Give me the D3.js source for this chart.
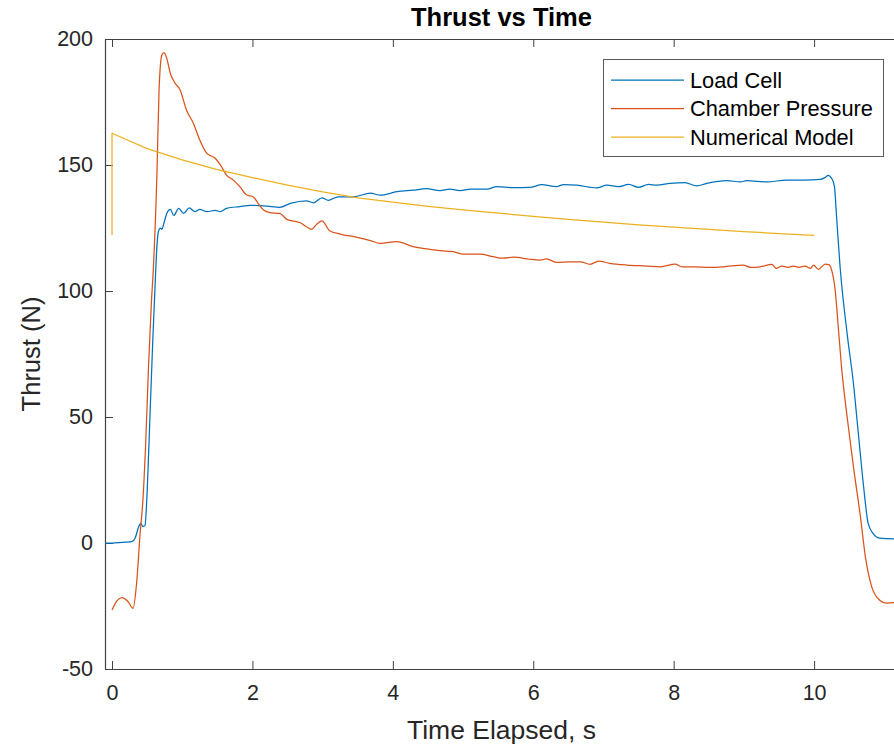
<!DOCTYPE html>
<html>
<head>
<meta charset="utf-8">
<script src="https://cdn.jsdelivr.net/npm/d3@7"></script>
<style>
  html, body { margin: 0; padding: 0; background: #fff; }
  svg { display: block; font-family: "Liberation Sans", Arial, Helvetica, sans-serif; }
</style>
</head>
<body>
<svg id="chart" width="894" height="746"></svg>
<script>
// ---------- DATA ----------
const xTicks = [0, 2, 4, 6, 8, 10];
const yTicks = [-50, 0, 50, 100, 150, 200];
const seriesNames = ["Load Cell", "Chamber Pressure", "Numerical Model"];

// Load Cell: [time s, thrust N]
const loadCell = [
  [-0.12,0],[0,0],[0.1,0.1],[0.2,0.3],[0.28,0.5],[0.33,2],[0.38,6.5],[0.41,7.8],[0.44,6.5],[0.47,7],
  [0.5,20],[0.54,50],[0.58,80],[0.61,100],[0.64,118],[0.66,123.5],[0.69,125],[0.71,124.5],
  [0.74,127],[0.78,130.8],[0.83,132.4],[0.88,130],[0.95,132.8],[1.02,130.8],[1.10,133],
  [1.18,131.5],[1.25,132.4],[1.35,131.5],[1.47,132],[1.54,131.5],[1.63,132.8],[1.82,133.5],
  [1.97,134],[2.2,133.7],[2.39,133.2],[2.54,134.8],[2.77,135.8],[2.87,135],[2.99,137],
  [3.08,136],[3.22,137.4],[3.44,137.4],[3.68,138.8],[3.82,138],[4.06,139.4],[4.29,140],
  [4.48,140.6],[4.67,139.8],[4.81,140.4],[4.96,139.8],[5.1,140.4],[5.34,140.4],[5.48,141.4],
  [5.72,141],[5.95,141.1],[6.12,142.2],[6.33,141.4],[6.43,142.2],[6.62,142],[6.9,140.9],
  [7.05,142],[7.21,141.4],[7.36,142.3],[7.5,141.1],[7.64,142.3],[7.76,142],[7.95,142.7],
  [8.16,143],[8.33,141.7],[8.47,142.7],[8.76,143.8],[8.95,143.3],[9.04,143.8],[9.33,143.3],
  [9.61,144],[9.85,144],[10.09,144.3],[10.16,145.1],[10.2,145.9],[10.25,144.7],[10.29,141.4],
  [10.32,129.5],[10.37,109.6],[10.47,83.2],[10.56,63.4],[10.63,43.5],[10.7,23.7],[10.77,7.8],
  [10.84,3.8],[10.93,1.9],[11.12,1.6],[11.3,1.6]
];

// Chamber Pressure (converted to thrust): [time s, thrust N]
const chamberPressure = [
  [0.0,-26.6],[0.07,-23],[0.14,-21.7],[0.23,-23.3],[0.30,-25.9],[0.35,-16],[0.40,3.8],
  [0.44,17],[0.48,40],[0.52,70],[0.56,95],[0.59,109.6],[0.64,146.7],[0.67,179.8],[0.71,193.7],
  [0.74,194.6],[0.78,192.3],[0.83,186.4],[0.90,182.4],[0.97,179.8],[1.06,171.8],[1.16,166.5],
  [1.25,159.9],[1.35,154.6],[1.47,152.7],[1.56,149.3],[1.63,146],[1.73,144],[1.82,141.4],
  [1.92,138.1],[2.01,137.4],[2.08,134.8],[2.16,132.1],[2.25,131.1],[2.39,130.8],[2.49,128.4],
  [2.68,127.1],[2.77,125.5],[2.84,124.5],[2.92,126.6],[2.99,127.8],[3.1,123.9],[3.25,122.6],
  [3.49,121.3],[3.68,120],[3.82,118.9],[4.06,119.6],[4.29,117.6],[4.43,116.9],[4.67,116],
  [4.86,115.6],[5.0,114.6],[5.24,114.6],[5.43,113.6],[5.57,113],[5.72,113.4],[5.95,112.6],
  [6.1,112.3],[6.19,112.7],[6.33,111.4],[6.52,111.6],[6.67,111.6],[6.81,110.6],[6.93,111.9],
  [7.09,111],[7.33,110.3],[7.62,109.9],[7.81,109.6],[8.02,110.7],[8.12,109.6],[8.28,109.6],
  [8.52,109.4],[8.71,109.6],[8.99,110.3],[9.09,109.4],[9.23,109.6],[9.4,110.6],[9.46,109],
  [9.54,109.9],[9.63,109.4],[9.7,109.9],[9.78,109.4],[9.87,109.9],[9.95,109],[9.99,110.3],
  [10.06,108.6],[10.16,110.7],[10.21,110.5],[10.25,108.3],[10.3,100.4],[10.34,87.2],[10.39,70],
  [10.47,50.1],[10.56,30.3],[10.66,10.4],[10.73,-5.4],[10.82,-17.3],[10.93,-22.6],[11.03,-23.9],
  [11.12,-23.7],[11.3,-23.8]
];

// Numerical Model: [time s, thrust N]
const numericalModel = [
  [0,122.2],[0,162.6],[0.5,156.5],[1,152],[1.5,148.2],[2,145],[2.5,142],[3,139.3],[3.5,137],
  [4,135.3],[4.5,133.6],[5,132.2],[5.5,130.9],[6,129.6],[6.5,128.4],[7,127.3],[7.5,126.2],
  [8,125.3],[8.5,124.5],[9,123.6],[9.5,122.8],[10,122.1]
];

// ---------- LAYOUT ----------
const colors = ["#0072BD", "#D95319", "#EDB120"];
const axisColor = "#404040";
const textColor = "#262626";

const svg = d3.select("#chart");
const mLeft = 105, mRight = 898, mTop = 39, mBottom = 669;

const x = d3.scaleLinear().domain([-0.1, 11.195]).range([mLeft, mRight]);
const y = d3.scaleLinear().domain([-50, 200]).range([mBottom, mTop]);

svg.append("defs").append("clipPath").attr("id", "clip")
  .append("rect").attr("x", mLeft).attr("y", mTop)
  .attr("width", mRight - mLeft).attr("height", mBottom - mTop);

// Axes (MATLAB-style, ticks inward)
const tickLen = 8;
const fmt = d => String(d);
const gx = svg.append("g").attr("transform", `translate(0,${mBottom})`)
  .call(d3.axisBottom(x).tickValues(xTicks).tickSizeInner(-tickLen).tickSizeOuter(0).tickPadding(16).tickFormat(fmt));
const gxTop = svg.append("g").attr("transform", `translate(0,${mTop})`)
  .call(d3.axisTop(x).tickValues(xTicks).tickSizeInner(-tickLen).tickSizeOuter(0).tickFormat(""));
const gy = svg.append("g").attr("transform", `translate(${mLeft},0)`)
  .call(d3.axisLeft(y).tickValues(yTicks).tickSizeInner(-tickLen).tickSizeOuter(0).tickPadding(12).tickFormat(fmt));

[gx, gxTop, gy].forEach(g => {
  g.select(".domain").attr("stroke", axisColor).attr("stroke-width", 1.2);
  g.selectAll(".tick line").attr("stroke", axisColor).attr("stroke-width", 1);
  g.selectAll(".tick text").attr("fill", textColor).style("font-size", "21.5px")
    .style("font-family", '"Liberation Sans", Arial, sans-serif');
});
gx.selectAll(".tick text").attr("dy", "0.71em");

// Lines
const line = d3.line().x(d => x(d[0])).y(d => y(d[1]));
const plot = svg.append("g").attr("clip-path", "url(#clip)");
const series = [loadCell, chamberPressure, numericalModel];
const curves = [d3.curveMonotoneX, d3.curveMonotoneX, d3.curveLinear];
series.forEach((data, i) => {
  plot.append("path")
    .datum(data)
    .attr("fill", "none")
    .attr("stroke", colors[i])
    .attr("stroke-width", 1.25)
    .attr("stroke-linejoin", "round")
    .attr("d", line.curve(curves[i])(data));
});

// Title
svg.append("text")
  .attr("x", (mLeft + mRight) / 2).attr("y", 26)
  .attr("text-anchor", "middle")
  .attr("fill", "#000")
  .style("font-size", "25.5px").style("font-weight", "bold")
  .text("Thrust vs Time");

// Axis labels
svg.append("text")
  .attr("x", (mLeft + mRight) / 2).attr("y", 739)
  .attr("text-anchor", "middle")
  .attr("fill", textColor)
  .style("font-size", "26.5px")
  .text("Time Elapsed, s");

svg.append("text")
  .attr("transform", `translate(40,${(mTop + mBottom) / 2}) rotate(-90)`)
  .attr("text-anchor", "middle")
  .attr("fill", textColor)
  .style("font-size", "25.5px")
  .text("Thrust (N)");

// Legend
const lg = svg.append("g");
lg.append("rect")
  .attr("x", 603.5).attr("y", 59.5).attr("width", 280).attr("height", 97)
  .attr("fill", "#fff").attr("stroke", "#5a5a5a").attr("stroke-width", 1);
seriesNames.forEach((name, i) => {
  const yy = 80 + i * 28.5;
  lg.append("line")
    .attr("x1", 611).attr("x2", 684).attr("y1", yy).attr("y2", yy)
    .attr("stroke", colors[i]).attr("stroke-width", 1.25);
  lg.append("text")
    .attr("x", 690).attr("y", yy).attr("dy", "0.36em")
    .attr("fill", "#000")
    .style("font-size", "21.8px")
    .text(name);
});
</script>
</body>
</html>
